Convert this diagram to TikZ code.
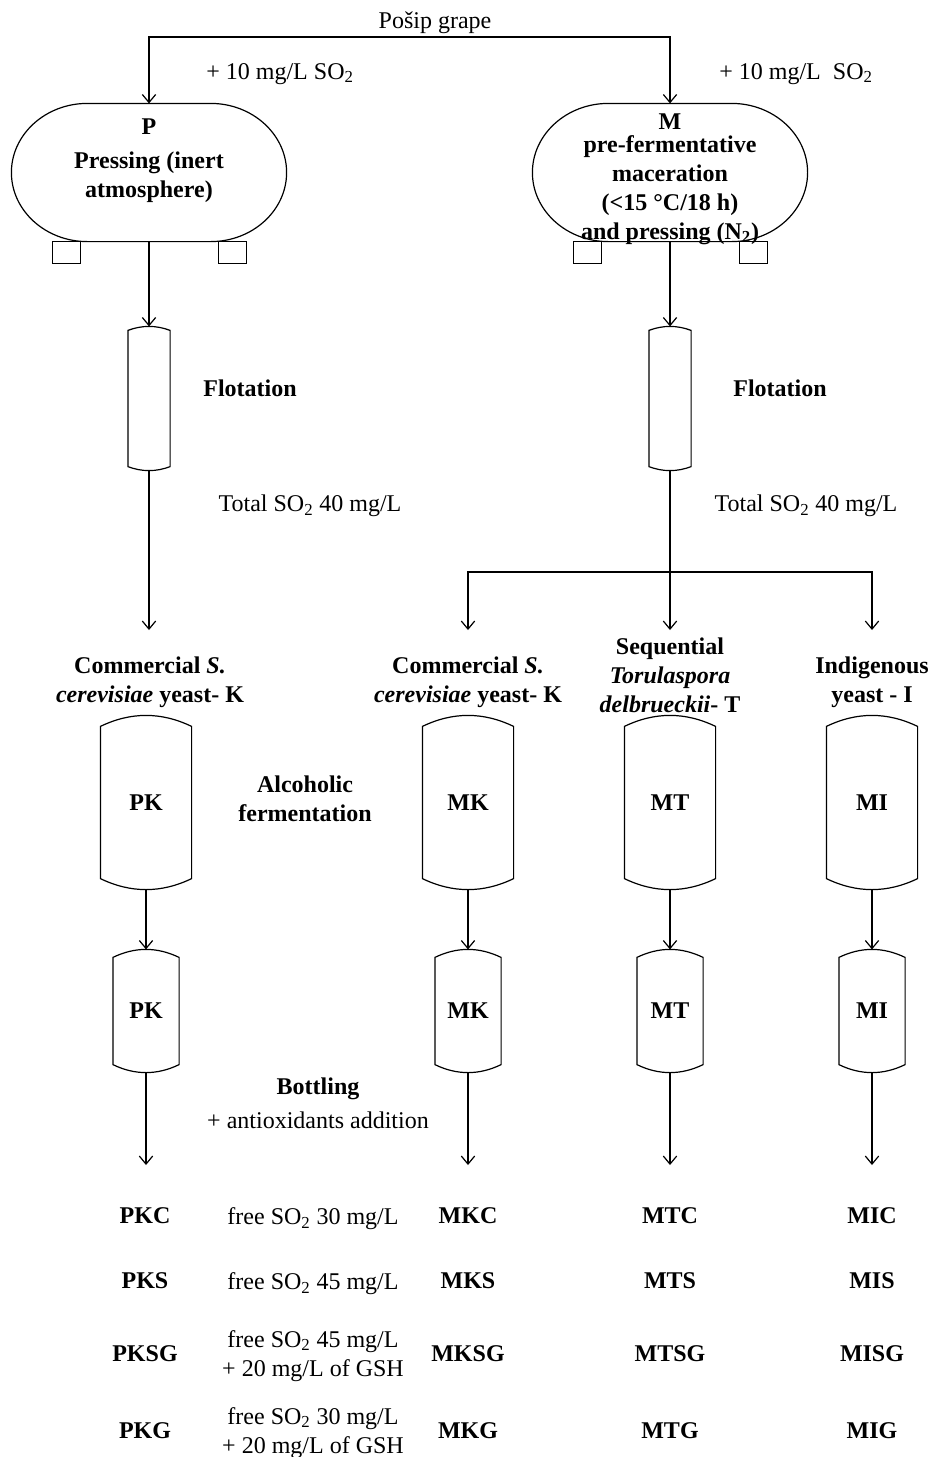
\documentclass[tikz,border=0pt]{standalone}
\usepackage{fontspec}
\setmainfont{Liberation Serif}
\usetikzlibrary{arrows.meta,calc}

\tikzset{every picture/.style={line width=0.9pt}}
\tikzset{
	txt/.style={font=\fontsize{18}{21.75}\selectfont, align=center, inner sep=0pt},
	btxt/.style={font=\fontsize{18}{21.75}\selectfont\bfseries, align=center, inner sep=0pt},
	arr/.style={-{Straight Barb[length=6pt,width=10pt]}},
	pressbox/.style={btxt, minimum width=205.5pt, minimum height=102.75pt},
	flotbox/.style={inner sep=0pt, minimum width=30.75pt, minimum height=107.25pt},
	fermbox/.style={btxt, minimum width=67.5pt, minimum height=129.75pt},
	bottlebox/.style={btxt, minimum width=48.75pt, minimum height=91.5pt}}

% vessel outline round a named node, #2 = height of the domed ends
\newcommand{\tankline}[2]{%
	\draw ($(#1.north west)+(0,#2)$)
	.. controls ($(#1.north west)!0.3333!(#1.north east)-(0,#2/3)$) and ($(#1.north east)!0.3333!(#1.north west)-(0,#2/3)$) .. ($(#1.north east)+(0,#2)$)
	-- ($(#1.south east)-(0,#2)$)
	.. controls ($(#1.south east)!0.3333!(#1.south west)+(0,#2/3)$) and ($(#1.south west)!0.3333!(#1.south east)+(0,#2/3)$) .. ($(#1.south west)-(0,#2)$) -- cycle;}
% press outline with its two feet
\newcommand{\pressline}[1]{%
	\draw ($(#1.north west)+(76,0)$) -- ($(#1.north east)-(76,0)$)
	.. controls ($(#1.north east)-(34,0)$) and ($(#1.east)-(0,38)$) .. (#1.east)
	.. controls ($(#1.east)+(0,38)$) and ($(#1.south east)-(34,0)$) .. ($(#1.south east)-(76,0)$)
	-- ($(#1.south west)+(76,0)$)
	.. controls ($(#1.south west)+(34,0)$) and ($(#1.west)+(0,38)$) .. (#1.west)
	.. controls ($(#1.west)-(0,38)$) and ($(#1.north west)+(34,0)$) .. ($(#1.north west)+(76,0)$) -- cycle;
	\draw ($(#1.south west)+(41,0)$) rectangle +(28,22);
	\draw ($(#1.south east)-(68,0)$) rectangle +(28,22);}

\begin{document}
\begin{tikzpicture}[x=0.75pt,y=0.75pt,yscale=-1,xscale=1]
	\useasboundingbox (0,0) rectangle (931,1457);

	% Text Node
	\node[txt] (grape) at (435,23) {Pošip grape};
	\node[txt] (addP) at (280,74) {+ 10 mg/L SO\textsubscript{2}};
	\node[txt] (addM) at (796,74) {+ 10 mg/L\ \ SO\textsubscript{2}};

	%Shape: Press P
	\node[pressbox] (Pp) at (149,172.5) {};
	\pressline{Pp}
	\node[btxt] (Plab) at (149,127) {P};
	\node[btxt] (Ptxt) at (149,177) {Pressing (inert\\atmosphere)};
	%Shape: Press M
	\node[pressbox] (Mp) at (670,172.5) {};
	\pressline{Mp}
	\node[btxt] (Mlab) at (670,122) {M};
	\node[btxt] (Mtxt) at (670,190) {pre-fermentative\\maceration\\(<15 °C/18 h)\\and pressing (N\textsubscript{2})};

	\coordinate (split) at (409,37);
	\draw[arr] (split) -| (Pp.north);
	\draw[arr] (split) -| (Mp.north);

	%Shape: Flotation columns
	\node[flotbox] (flotP) at (149,398.5) {};
	\tankline{flotP}{4}
	\node[flotbox] (flotM) at (670,398.5) {};
	\tankline{flotM}{4}
	\draw[arr] (Pp.south) -- (flotP.north);
	\draw[arr] (Mp.south) -- (flotM.north);

	% Text Node
	\node[btxt] (flotTP) at (250,388) {Flotation};
	\node[btxt] (flotTM) at (780,388) {Flotation};
	\node[txt] (so2P) at (310,506) {Total SO\textsubscript{2} 40 mg/L};
	\node[txt] (so2M) at (806,506) {Total SO\textsubscript{2} 40 mg/L};

	\coordinate (inP) at (149,630);
	\coordinate (splitM) at (670,572);
	\coordinate (inMK) at (468,630);
	\coordinate (inMT) at (670,630);
	\coordinate (inMI) at (872,630);
	\draw[arr] (flotP.south) -- (inP);
	\draw (flotM.south) -- (splitM);
	\draw[arr] (splitM) -| (inMK);
	\draw[arr] (splitM) -- (inMT);
	\draw[arr] (splitM) -| (inMI);

	% Text Node
	\node[btxt] (yKP) at (150,682) {Commercial \textit{S.}\\\textit{cerevisiae} yeast- K};
	\node[btxt] (yKM) at (468,682) {Commercial \textit{S.}\\\textit{cerevisiae} yeast- K};
	\node[btxt] (yTM) at (670,675.5) {Sequential\\\textit{Torulaspora}\\\textit{delbrueckii}- T};
	\node[btxt] (yIM) at (872,682) {Indigenous\\yeast - I};

	%Shape: Fermentation tanks
	\node[fermbox] (fPK) at (146,802.5) {PK};
	\tankline{fPK}{11}
	\node[fermbox] (fMK) at (468,802.5) {MK};
	\tankline{fMK}{11}
	\node[fermbox] (fMT) at (670,802.5) {MT};
	\tankline{fMT}{11}
	\node[fermbox] (fMI) at (872,802.5) {MI};
	\tankline{fMI}{11}
	\node[btxt] (alc) at (305,799) {Alcoholic\\fermentation};

	%Shape: Bottling tanks
	\node[bottlebox] (bPK) at (146,1011) {PK};
	\tankline{bPK}{8}
	\node[bottlebox] (bMK) at (468,1011) {MK};
	\tankline{bMK}{8}
	\node[bottlebox] (bMT) at (670,1011) {MT};
	\tankline{bMT}{8}
	\node[bottlebox] (bMI) at (872,1011) {MI};
	\tankline{bMI}{8}
	\draw[arr] (fPK.south) -- (bPK.north);
	\draw[arr] (fMK.south) -- (bMK.north);
	\draw[arr] (fMT.south) -- (bMT.north);
	\draw[arr] (fMI.south) -- (bMI.north);

	% Text Node
	\node[btxt] (bott) at (318,1089) {Bottling};
	\node[txt] (antiox) at (318,1120) {+ antioxidants addition};

	\coordinate (oPK) at (146,1165);
	\coordinate (oMK) at (468,1165);
	\coordinate (oMT) at (670,1165);
	\coordinate (oMI) at (872,1165);
	\draw[arr] (bPK.south) -- (oPK);
	\draw[arr] (bMK.south) -- (oMK);
	\draw[arr] (bMT.south) -- (oMT);
	\draw[arr] (bMI.south) -- (oMI);

	% Text Node: wines
	\node[btxt] (PKC) at (145,1216) {PKC};
	\node[txt] (freeC) at (313,1219) {free SO\textsubscript{2} 30 mg/L};
	\node[btxt] (MKC) at (468,1216) {MKC};
	\node[btxt] (MTC) at (670,1216) {MTC};
	\node[btxt] (MIC) at (872,1216) {MIC};

	\node[btxt] (PKS) at (145,1281) {PKS};
	\node[txt] (freeS) at (313,1284) {free SO\textsubscript{2} 45 mg/L};
	\node[btxt] (MKS) at (468,1281) {MKS};
	\node[btxt] (MTS) at (670,1281) {MTS};
	\node[btxt] (MIS) at (872,1281) {MIS};

	\node[btxt] (PKSG) at (145,1354) {PKSG};
	\node[txt] (freeSG) at (313,1356) {free SO\textsubscript{2} 45 mg/L\\+ 20 mg/L of GSH};
	\node[btxt] (MKSG) at (468,1354) {MKSG};
	\node[btxt] (MTSG) at (670,1354) {MTSG};
	\node[btxt] (MISG) at (872,1354) {MISG};

	\node[btxt] (PKG) at (145,1431) {PKG};
	\node[txt] (freeG) at (313,1433) {free SO\textsubscript{2} 30 mg/L\\+ 20 mg/L of GSH};
	\node[btxt] (MKG) at (468,1431) {MKG};
	\node[btxt] (MTG) at (670,1431) {MTG};
	\node[btxt] (MIG) at (872,1431) {MIG};
\end{tikzpicture}
\end{document}
